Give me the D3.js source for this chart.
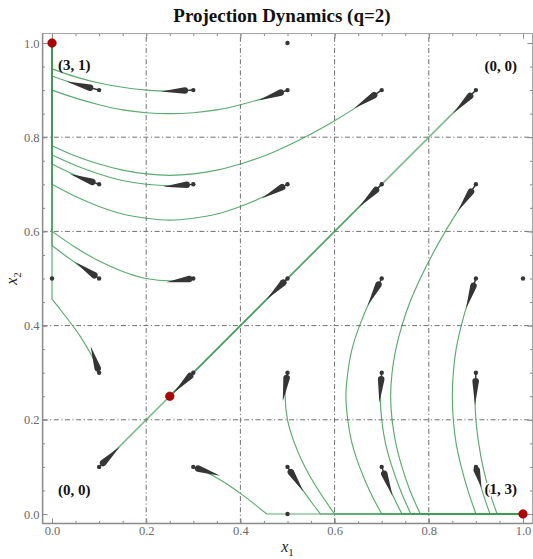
<!DOCTYPE html>
<html>
<head>
<meta charset="utf-8">
<script src="https://cdn.jsdelivr.net/npm/d3@7"></script>
<style>
  body { margin: 0; background: #fff; }
  text { font-family: "Liberation Serif", "DejaVu Serif", serif; }
</style>
</head>
<body>
<svg id="chart" width="533" height="559"></svg>
<script>
// ---- data -------------------------------------------------------------
const title = "Projection Dynamics (q=2)";
const majorTicks = [0, 0.2, 0.4, 0.6, 0.8, 1.0];
const gridValues = [0.2, 0.4, 0.6, 0.8];

// payoff pairs written at the four pure-strategy corners
const payoffLabels = ["(3, 1)", "(0, 0)", "(0, 0)", "(1, 3)"];
const payoffCorners = [[0, 1], [1, 1], [0, 0], [1, 0]];

// equilibria: two strict ones and the mixed saddle
const equilibria = [[0, 1], [1, 0], [0.25, 0.25]];

// edge midpoints where the field is drawn as a bare dot
const edgeDots = [[0.5, 1], [0, 0.5], [1, 0.5], [0.5, 0]];

// flow glyphs: start (x1, x2) and the point reached a short time later
const flowGlyphs = [
  [0.1, 0.9, 0.031, 0.918], [0.3, 0.9, 0.231, 0.897], [0.5, 0.9, 0.438, 0.878], [0.7, 0.9, 0.641, 0.861], [0.9, 0.9, 0.852, 0.851],
  [0.1, 0.7, 0.038, 0.722], [0.3, 0.7, 0.236, 0.695], [0.5, 0.7, 0.445, 0.670], [0.7, 0.7, 0.652, 0.652], [0.9, 0.7, 0.861, 0.642],
  [0.1, 0.5, 0.049, 0.535], [0.3, 0.5, 0.243, 0.492], [0.5, 0.5, 0.456, 0.456], [0.7, 0.5, 0.670, 0.442], [0.9, 0.5, 0.879, 0.436],
  [0.1, 0.3, 0.082, 0.356], [0.3, 0.3, 0.259, 0.258], [0.5, 0.3, 0.490, 0.240], [0.7, 0.3, 0.695, 0.236], [0.9, 0.3, 0.898, 0.231],
  [0.1, 0.1, 0.144, 0.143], [0.3, 0.1, 0.357, 0.081], [0.5, 0.1, 0.534, 0.047], [0.7, 0.1, 0.723, 0.038], [0.9, 0.1, 0.912, 0.055]
];

// orbits that reach the edge x1 = 0 and then slide up to (0, 1)
const orbitsToTopLeft = [
  [[0.3, 0.9], [0.25, 0.898], [0.2, 0.9], [0.15, 0.906], [0.1, 0.915], [0.05, 0.928], [0, 0.945]],
  [[0.1, 0.9], [0.05, 0.913], [0, 0.930]],
  [[0.5, 0.9], [0.45, 0.883], [0.4, 0.869], [0.35, 0.858], [0.3, 0.852], [0.25, 0.85], [0.2, 0.852], [0.15, 0.858], [0.1, 0.869], [0.05, 0.883], [0, 0.9]],
  [[0.7, 0.9], [0.65, 0.866], [0.6, 0.835], [0.55, 0.807], [0.5, 0.782], [0.45, 0.76], [0.4, 0.743], [0.35, 0.73], [0.3, 0.722], [0.25, 0.719], [0.2, 0.722], [0.15, 0.73], [0.1, 0.743], [0.05, 0.76], [0, 0.782]],
  [[0.3, 0.7], [0.25, 0.697], [0.2, 0.7], [0.15, 0.708], [0.1, 0.722], [0.05, 0.74], [0, 0.762]],
  [[0.1, 0.7], [0.05, 0.719], [0, 0.743]],
  [[0.5, 0.7], [0.45, 0.674], [0.4, 0.653], [0.35, 0.637], [0.3, 0.628], [0.25, 0.624], [0.2, 0.628], [0.15, 0.637], [0.1, 0.653], [0.05, 0.674], [0, 0.7]],
  [[0.3, 0.5], [0.25, 0.495], [0.2, 0.5], [0.15, 0.515], [0.1, 0.537], [0.05, 0.566], [0, 0.6]],
  [[0.1, 0.5], [0.075, 0.515], [0.05, 0.533], [0.025, 0.551], [0, 0.57]],
  [[0.1, 0.3], [0.09, 0.325], [0.08, 0.344], [0.06, 0.377], [0.04, 0.405], [0.02, 0.431], [0, 0.456]]
];

// orbits that reach the edge x2 = 0 and then slide right to (1, 0)
const orbitsToBottomRight = [
  [[0.9, 0.7], [0.866, 0.65], [0.835, 0.6], [0.807, 0.55], [0.782, 0.5], [0.76, 0.45], [0.743, 0.4], [0.73, 0.35], [0.722, 0.3], [0.719, 0.25], [0.722, 0.2], [0.73, 0.15], [0.743, 0.1], [0.76, 0.05], [0.782, 0]],
  [[0.9, 0.5], [0.883, 0.45], [0.869, 0.4], [0.858, 0.35], [0.852, 0.3], [0.85, 0.25], [0.852, 0.2], [0.858, 0.15], [0.869, 0.1], [0.883, 0.05], [0.9, 0]],
  [[0.9, 0.3], [0.898, 0.25], [0.9, 0.2], [0.906, 0.15], [0.915, 0.1], [0.928, 0.05], [0.945, 0]],
  [[0.9, 0.1], [0.913, 0.05], [0.93, 0]],
  [[0.7, 0.5], [0.674, 0.45], [0.653, 0.4], [0.637, 0.35], [0.628, 0.3], [0.624, 0.25], [0.628, 0.2], [0.637, 0.15], [0.653, 0.1], [0.674, 0.05], [0.7, 0]],
  [[0.7, 0.3], [0.697, 0.25], [0.7, 0.2], [0.708, 0.15], [0.722, 0.1], [0.74, 0.05], [0.762, 0]],
  [[0.7, 0.1], [0.719, 0.05], [0.743, 0]],
  [[0.5, 0.3], [0.495, 0.25], [0.5, 0.2], [0.515, 0.15], [0.537, 0.1], [0.566, 0.05], [0.6, 0]],
  [[0.5, 0.1], [0.515, 0.075], [0.533, 0.05], [0.551, 0.025], [0.57, 0]],
  [[0.3, 0.1], [0.325, 0.09], [0.344, 0.08], [0.377, 0.06], [0.405, 0.04], [0.431, 0.02], [0.456, 0]]
];

// orbits along the diagonal, running into the saddle
const orbitsToSaddle = [
  [[0.9, 0.9], [0.25, 0.25]],
  [[0.7, 0.7], [0.25, 0.25]],
  [[0.5, 0.5], [0.25, 0.25]],
  [[0.3, 0.3], [0.25, 0.25]],
  [[0.1, 0.1], [0.25, 0.25]]
];

// ---- drawing ----------------------------------------------------------
const svg = d3.select("#chart");
const x = d3.scaleLinear().domain([0, 1]).range([52, 523]);
const y = d3.scaleLinear().domain([0, 1]).range([514, 43]);
const lo = -0.02, hi = 1.02;
const X0 = x(lo), X1 = x(hi), Y0 = y(lo), Y1 = y(hi);

const green = "#3c9c55";
const ink = "#353535";

// dash-dot grid
const grid = svg.append("g").attr("stroke", "#707070").attr("stroke-width", 1)
  .attr("stroke-dasharray", "5,2.5,1.2,2.5").attr("fill", "none");
grid.selectAll(".gv").data(gridValues).join("line").attr("class", "gv")
  .attr("x1", d => x(d)).attr("x2", d => x(d)).attr("y1", Y0).attr("y2", Y1);
grid.selectAll(".gh").data(gridValues).join("line").attr("class", "gh")
  .attr("y1", d => y(d)).attr("y2", d => y(d)).attr("x1", X0).attr("x2", X1);

// frame with inward ticks on all four sides
const minorTicks = d3.range(0, 1.0001, 0.05).map(v => +v.toFixed(2));
const fmt = d3.format(".1f");
function styleAxis(g) {
  g.attr("font-family", null).attr("font-size", null);
  g.select(".domain").remove();
  g.selectAll("line").attr("stroke", "#8c8c8c");
  g.selectAll("text").attr("fill", "#6a6a6a").style("font-size", "12.5px")
    .style("font-family", "'Liberation Serif', serif");
}
function addAxis(maker, transform, labelled) {
  svg.append("g").attr("transform", transform)
    .call(maker.tickValues(minorTicks).tickSize(-2.5).tickFormat(""))
    .call(styleAxis);
  svg.append("g").attr("transform", transform)
    .call(maker.tickValues(majorTicks).tickSize(-5).tickPadding(labelled ? 3 : 0)
      .tickFormat(labelled ? fmt : ""))
    .call(styleAxis);
}
addAxis(d3.axisBottom(x), `translate(0,${Y0})`, true);
addAxis(d3.axisLeft(y), `translate(${X0},0)`, true);
addAxis(d3.axisTop(x), `translate(0,${Y1})`, false);
addAxis(d3.axisRight(y), `translate(${X1},0)`, false);

svg.append("rect").attr("x", X0).attr("y", Y1)
  .attr("width", X1 - X0).attr("height", Y0 - Y1)
  .attr("fill", "none").attr("stroke", "#a0a0a0").attr("stroke-width", 1);
svg.append("line").attr("x1", X0).attr("x2", X0).attr("y1", Y1).attr("y2", Y0)
  .attr("stroke", "#8c8c8c").attr("stroke-width", 1.5);
svg.append("line").attr("x1", X0).attr("x2", X1).attr("y1", Y0).attr("y2", Y0)
  .attr("stroke", "#8c8c8c").attr("stroke-width", 1.5);

// orbits: smooth interior part, then straight slide along the edge
const smooth = d3.line().x(d => x(d[0])).y(d => y(d[1])).curve(d3.curveCatmullRom.alpha(0.5));
function orbitPath(pts, sink) {
  let p = smooth(pts);
  if (sink) p += `L${x(sink[0])},${y(sink[1])}`;
  return p;
}
function drawOrbits(list, sink, width, opacity) {
  svg.append("g").selectAll("path").data(list).join("path")
    .attr("d", d => orbitPath(d, sink))
    .attr("fill", "none").attr("stroke", green)
    .attr("stroke-width", width).attr("stroke-opacity", opacity);
}
drawOrbits(orbitsToTopLeft, [0, 1], 1.15, 0.85);
drawOrbits(orbitsToBottomRight, [1, 0], 1.15, 0.85);
drawOrbits(orbitsToSaddle, null, 1.5, 0.7);

// flow glyphs: dot at the start, thin neck, rounded head, taper along the flow
function glyphHead(f) {
  const p0 = [x(f[0]), y(f[1])], p1 = [x(f[2]), y(f[3])];
  const dx = p1[0] - p0[0], dy = p1[1] - p0[1];
  const L = Math.hypot(dx, dy), ux = dx / L, uy = dy / L;
  const neck = Math.max(0, (L - 26) * 0.8);
  const r = 3.3;
  const cx = p0[0] + ux * (neck + r), cy = p0[1] + uy * (neck + r);
  const a = Math.atan2(uy, ux);
  const p = d3.path();
  p.moveTo(p1[0], p1[1]);
  p.lineTo(cx + r * Math.cos(a + Math.PI / 2), cy + r * Math.sin(a + Math.PI / 2));
  p.arc(cx, cy, r, a + Math.PI / 2, a + 3 * Math.PI / 2, false);
  p.closePath();
  return { d: p.toString(), neckEnd: [cx, cy], p0 };
}
const glyphs = svg.append("g");
flowGlyphs.forEach(f => {
  const g = glyphHead(f);
  glyphs.append("line").attr("x1", g.p0[0]).attr("y1", g.p0[1])
    .attr("x2", g.neckEnd[0]).attr("y2", g.neckEnd[1])
    .attr("stroke", ink).attr("stroke-width", 1.3);
  glyphs.append("path").attr("d", g.d).attr("fill", ink);
  glyphs.append("circle").attr("cx", g.p0[0]).attr("cy", g.p0[1]).attr("r", 2.2).attr("fill", ink);
});
glyphs.selectAll(".edge").data(edgeDots).join("circle").attr("class", "edge")
  .attr("cx", d => x(d[0])).attr("cy", d => y(d[1])).attr("r", 2.2).attr("fill", ink);

// equilibria
svg.append("g").selectAll("circle").data(equilibria).join("circle")
  .attr("cx", d => x(d[0])).attr("cy", d => y(d[1])).attr("r", 4.3)
  .attr("fill", "#b30000").attr("stroke", "#8e0000").attr("stroke-width", 0.6);

// payoff labels at the corners
const labelOffset = [[6, 27, "start"], [-6, 28, "end"], [6, -19, "start"], [-6, -20, "end"]];
svg.append("g").selectAll("text").data(payoffLabels).join("text")
  .attr("x", (d, i) => x(payoffCorners[i][0]) + labelOffset[i][0])
  .attr("y", (d, i) => y(payoffCorners[i][1]) + labelOffset[i][1])
  .attr("text-anchor", (d, i) => labelOffset[i][2])
  .attr("font-weight", "bold").attr("font-size", "15px").attr("fill", "#111")
  .attr("stroke", (d, i) => i === 3 ? "#fff" : "none").attr("stroke-width", 3)
  .attr("paint-order", "stroke")
  .text(d => d);

// title and axis names
svg.append("text").attr("x", 282).attr("y", 22).attr("text-anchor", "middle")
  .attr("font-weight", "bold").attr("font-size", "19px").attr("fill", "#111").text(title);

const xl = svg.append("text").attr("x", x(0.5)).attr("y", 552).attr("text-anchor", "middle")
  .attr("font-size", "16px").attr("fill", "#222");
xl.append("tspan").attr("font-style", "italic").text("x");
xl.append("tspan").attr("font-size", "11px").attr("dy", 4).text("1");

const yl = svg.append("text").attr("transform", `translate(17,${y(0.5)}) rotate(-90)`)
  .attr("text-anchor", "middle").attr("font-size", "16px").attr("fill", "#222");
yl.append("tspan").attr("font-style", "italic").text("x");
yl.append("tspan").attr("font-size", "11px").attr("dy", 4).text("2");
</script>
</body>
</html>
